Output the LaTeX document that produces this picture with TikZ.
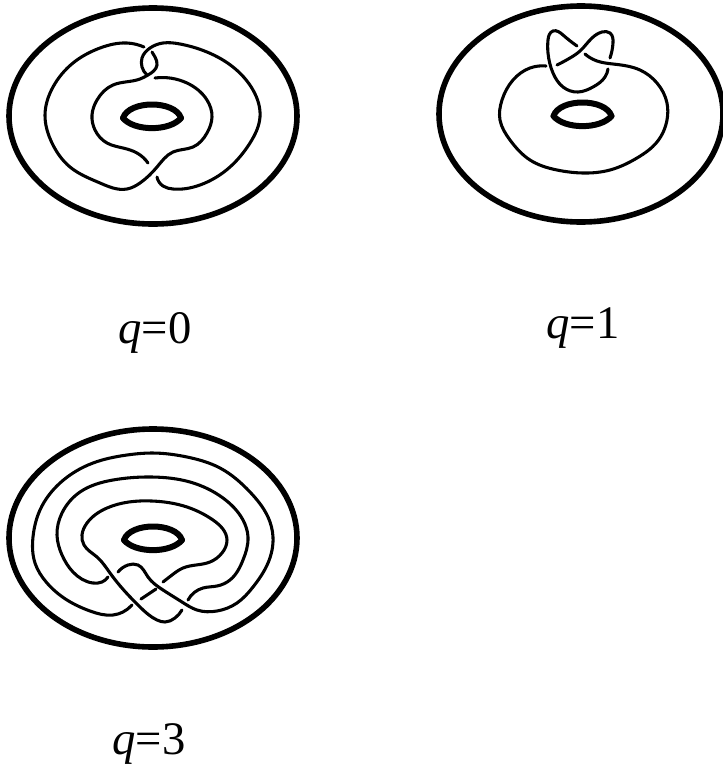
\documentclass[tikz,border=0pt]{standalone}
\usepackage{fontspec}
\setmainfont{Liberation Serif}
\usepackage{tikz}
\usetikzlibrary{hobby}
\newcommand{\torushole}[2]{%
  \draw[holeline] (#1-29,#2) .. controls (#1-23,#2-18) and (#1+23,#2-18) .. (#1+29,#2);
  \draw[holeline] (#1-29,#2) .. controls (#1-18,#2+13.5) and (#1+18,#2+13.5) .. (#1+29,#2);
}

\begin{document}
\begin{tikzpicture}[
  x=0.75pt, y=-0.75pt,
  rim/.style={line width=4.2pt},
  holeline/.style={line width=4.5pt, line cap=round},
  strand/.style={line width=2.3pt, line cap=round, use Hobby shortcut},
  qlabel/.style={font=\fontsize{35}{35}\selectfont, inner sep=0pt, anchor=base}
]
  \useasboundingbox (0,0) rectangle (723,765);

  % q=0
  \draw[rim] (153,116) ellipse [x radius=144, y radius=108];
  \torushole{152}{118}
  \draw[strand] (144,47) .. (127,43) .. (100,48) .. (73,63) .. (53,87) .. (45,115) .. (52,143) .. (70,167) .. (100,183) .. (127,189) .. (140,183) .. (157,167) .. (173,152) .. (193,147) .. (207,133) .. (212,117) .. (207,100) .. (187,83) .. (155,78);
  \draw[strand] (157,177) .. (163,186) .. (173,189) .. (200,185) .. (230,167) .. (250,143) .. (260,117) .. (253,90) .. (233,67) .. (207,52) .. (180,44) .. (163,43) .. (150,48) .. (142,58) .. (142,67) .. (147,75);
  \draw[strand] (148,163) .. (137,153) .. (123,148) .. (107,143) .. (95,130) .. (92,115) .. (97,100) .. (113,85) .. (140,79) .. (148,75) .. (157,65) .. (155,57) .. (152,52);

  % q=1
  \draw[rim] (581,114) ellipse [x radius=142, y radius=108];
  \torushole{582.5}{116}
  \draw[strand] (546,66) .. (530,68) .. (513,80) .. (502,100) .. (500,120) .. (510,140) .. (530,160) .. (557,170) .. (583,173) .. (610,170) .. (637,158) .. (657,142) .. (667,120) .. (667,103) .. (657,83) .. (640,70) .. (613,64) .. (597,61) .. (585,54);
  \draw[strand] (577,46) .. (563,35) .. (553,31) .. (548,40) .. (548,53) .. (553,73) .. (563,87) .. (578,92) .. (593,87) .. (605,77) .. (608,69);
  \draw[strand] (557,65) .. (570,58) .. (580,51) .. (592,38) .. (602,32) .. (610,33) .. (613,43) .. (610,58);

  % q=3
  \draw[rim] (153,538) ellipse [x radius=144, y radius=109];
  \torushole{153}{540}
  \draw[strand] (182,610) .. (175,618) .. (165,622) .. (157,620) .. (140,607) .. (110,573) .. (97,557) .. (84,545) .. (82,535) .. (87,523) .. (107,508) .. (152,501) .. (187,507) .. (213,520) .. (227,540) .. (222,553) .. (210,562) .. (183,568) .. (172,575) .. (163,582);
  \draw[strand] (108,577) .. (102,582) .. (93,583) .. (73,572) .. (62,555) .. (57,535) .. (62,513) .. (80,492) .. (113,480) .. (152,477) .. (190,482) .. (223,498) .. (243,520) .. (248,537) .. (243,560) .. (230,580) .. (217,586) .. (203,588) .. (188,600);
  \draw[strand] (132,605) .. (123,612) .. (113,615) .. (90,611) .. (67,600) .. (47,583) .. (35,563) .. (33,537) .. (40,510) .. (60,483) .. (93,463) .. (127,455) .. (152,453) .. (187,457) .. (220,468) .. (250,492) .. (268,517) .. (273,537) .. (268,563) .. (253,587) .. (237,603) .. (217,611) .. (197,610) .. (182,602) .. (163,590) .. (148,577) .. (138,565) .. (128,565) .. (118,572);
  \draw[line width=2.3pt, line cap=round] (141,599) -- (156,589);

  \node[qlabel] (q0) at (155,343) {\textit{q}=0};
  \node[qlabel] (q1) at (583,338) {\textit{q}=1};
  \node[qlabel] (q3) at (149,754) {\textit{q}=3};
\end{tikzpicture}
\end{document}
